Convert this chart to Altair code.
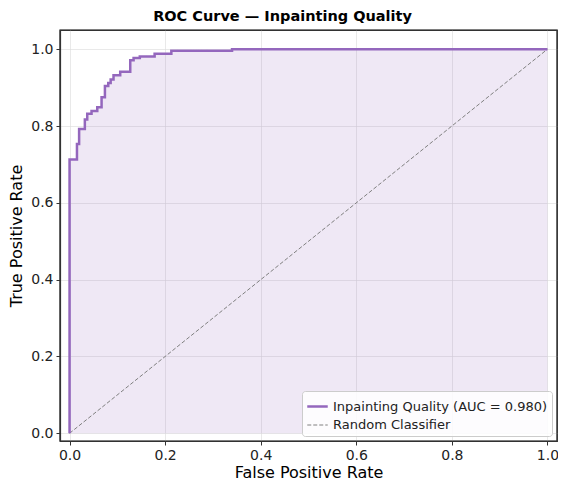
import altair as alt
import pandas as pd

# ROC curve corner points
fpr = [0.0, 0.0, 0.0155, 0.0155, 0.020, 0.020, 0.032, 0.032, 0.037, 0.037,
       0.046, 0.046, 0.058, 0.058, 0.067, 0.067, 0.074, 0.074, 0.081, 0.081,
       0.086, 0.086, 0.092, 0.092, 0.106, 0.106, 0.127, 0.127, 0.134, 0.134,
       0.147, 0.147, 0.178, 0.178, 0.213, 0.213, 0.340, 0.340, 1.0]
tpr = [0.0, 0.713, 0.713, 0.753, 0.753, 0.792, 0.792, 0.817, 0.817, 0.832,
       0.832, 0.839, 0.839, 0.849, 0.849, 0.875, 0.875, 0.904, 0.904, 0.912,
       0.912, 0.921, 0.921, 0.932, 0.932, 0.941, 0.941, 0.971, 0.971, 0.977,
       0.977, 0.981, 0.981, 0.988, 0.988, 0.996, 0.996, 1.0, 1.0]

diag_x = [0.0, 1.0]
diag_y = [0.0, 1.0]

series_names = ["Inpainting Quality (AUC = 0.980)", "Random Classifier"]
series_colors = ["#9467bd", "#808080"]
series_dash = [[1, 0], [4, 2]]
series_width = [2.5, 1.0]
ticks = [0.0, 0.2, 0.4, 0.6, 0.8, 1.0]

W, H = 497, 411

roc = pd.DataFrame({"fpr": fpr, "tpr": tpr, "i": list(range(len(fpr))),
                    "series": series_names[0]})
roc_step = roc.drop_duplicates("fpr", keep="last")
diag = pd.DataFrame({"fpr": diag_x, "tpr": diag_y, "i": [0, 1],
                     "series": series_names[1]})

xs = alt.Scale(domain=[-0.02, 1.02], nice=False, zero=False)
ys = alt.Scale(domain=[-0.02, 1.05], nice=False, zero=False)

x_main = alt.X("fpr:Q", scale=xs, title="False Positive Rate",
               axis=alt.Axis(values=ticks, format=".1f"))
y_main = alt.Y("tpr:Q", scale=ys, title="True Positive Rate", stack=None,
               axis=alt.Axis(values=ticks, format=".1f"))
x_plain = alt.X("fpr:Q", scale=xs, axis=None)
y_plain = alt.Y("tpr:Q", scale=ys, axis=None)

leg = alt.Legend(orient="bottom-right", offset=5)
color = alt.Color("series:N", title=None,
                  scale=alt.Scale(domain=series_names, range=series_colors),
                  legend=leg)
dash = alt.StrokeDash("series:N", title=None,
                      scale=alt.Scale(domain=series_names, range=series_dash),
                      legend=leg)
width = alt.StrokeWidth("series:N", title=None,
                        scale=alt.Scale(domain=series_names, range=series_width),
                        legend=leg)

area = alt.Chart(roc_step).mark_area(color="#9467bd", opacity=0.15,
                                     interpolate="step-after").encode(
    x=x_main, y=y_main)

line = alt.Chart(roc).mark_line(clip=True).encode(
    x=x_plain, y=y_plain, order=alt.Order("i:Q"),
    color=color, strokeDash=dash, strokeWidth=width)

diag_line = alt.Chart(diag).mark_line(clip=True).encode(
    x=x_plain, y=y_plain, order=alt.Order("i:Q"),
    color=color, strokeDash=dash, strokeWidth=width)

frame = alt.Chart(pd.DataFrame({"k": [0]})).mark_rect(
    filled=False, stroke="#333333", strokeWidth=1.2
).encode(x=alt.value(0), x2=alt.value(W), y=alt.value(0), y2=alt.value(H))

chart = alt.layer(area, diag_line, line, frame).resolve_axis(
    x="independent", y="independent"
).properties(
    width=W, height=H,
    autosize=alt.AutoSizeParams(type="none"),
    padding={"left": 52, "top": 22, "right": 1, "bottom": 40},
    title=alt.TitleParams("ROC Curve — Inpainting Quality", anchor="middle",
                          dx=-26, offset=5, fontSize=14.5, fontWeight="bold",
                          font="DejaVu Sans", color="#000000"),
).configure_view(
    stroke="#333333", strokeWidth=1.2
).configure_axis(
    labelFont="DejaVu Sans", titleFont="DejaVu Sans",
    labelFontSize=14, titleFontSize=16, titleFontWeight="normal",
    labelColor="#222222", titleColor="#000000",
    grid=True, gridColor="#dddddd", gridOpacity=0.8, gridWidth=0.8,
    domain=True, domainColor="#333333", domainWidth=1.2,
    tickColor="#333333", tickSize=4, tickWidth=1,
    labelPadding=3,
).configure_axisX(
    titlePadding=2
).configure_axisY(
    titlePadding=6
).configure_legend(
    labelFont="DejaVu Sans", labelFontSize=13, labelColor="#222222",
    symbolType="stroke", symbolSize=420, symbolStrokeWidth=2.5,
    strokeColor="#cccccc", fillColor="rgba(255,255,255,0.85)",
    padding=4, cornerRadius=3, rowPadding=-3, labelLimit=400,
)

chart.save("out.html", embed_options={"renderer": "svg", "actions": False})
